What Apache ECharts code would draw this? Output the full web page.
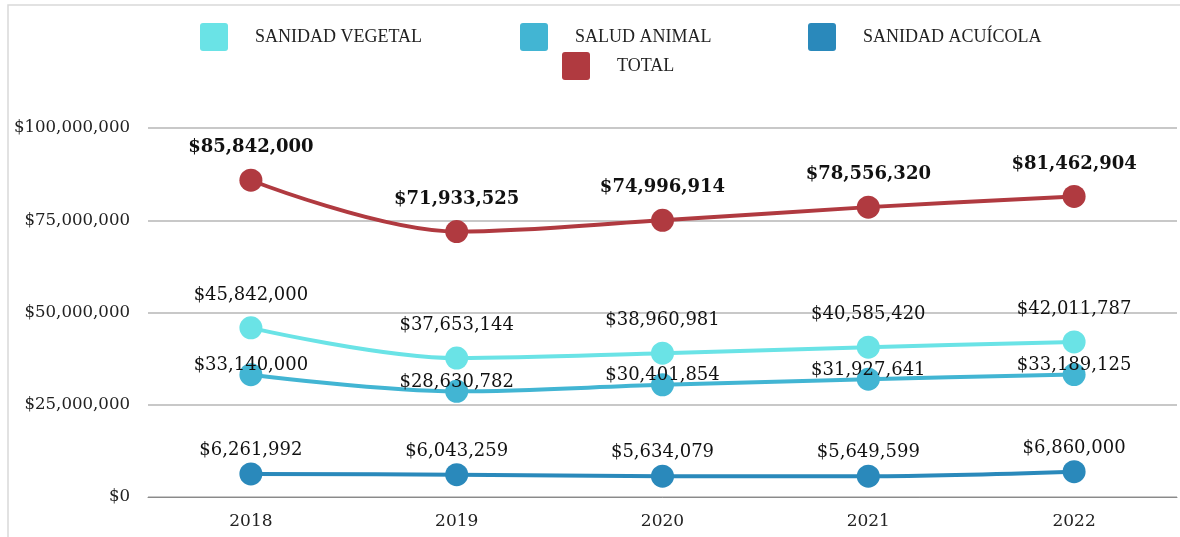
<!DOCTYPE html>
<html>
<head>
<meta charset="utf-8">
<script src="https://cdn.jsdelivr.net/npm/echarts@6/dist/echarts.min.js"></script>
<style>
  html, body { margin: 0; padding: 0; background: #fff; }
  #chart { width: 1180px; height: 537px; }
</style>
</head>
<body>
<div id="chart"></div>
<script>
// datos
const years = ["2018", "2019", "2020", "2021", "2022"];
const sanidadVegetal = [45842000, 37653144, 38960981, 40585420, 42011787];
const saludAnimal = [33140000, 28630782, 30401854, 31927641, 33189125];
const sanidadAcuicola = [6261992, 6043259, 5634079, 5649599, 6860000];
const total = [85842000, 71933525, 74996914, 78556320, 81462904];

const serif = "DejaVu Serif";
const money = (v) => "$" + Number(v).toLocaleString("en-US");
// cuadrado con esquinas redondeadas para la leyenda
const squareIcon = "path://M3,0H25Q28,0,28,3V25Q28,28,25,28H3Q0,28,0,25V3Q0,0,3,0Z";

const chart = echarts.init(document.getElementById("chart"));

// una leyenda por serie para fijar su posición
function legendItem(name, left, top) {
  return {
    data: [name],
    left: left,
    top: top,
    itemWidth: 28,
    itemHeight: 28,
    icon: squareIcon,
    selectedMode: false,
    textStyle: {
      fontFamily: "Liberation Serif",
      fontSize: 18,
      color: "#222",
      padding: [0, 0, 4, 22],
    },
  };
}

function lineSeries(name, data, color, label) {
  return {
    name: name,
    type: "line",
    data: data,
    smooth: 0.35,
    symbol: "circle",
    symbolSize: 23,
    itemStyle: { color: color },
    lineStyle: { color: color, width: 4 },
    label: Object.assign(
      {
        show: true,
        formatter: (p) => money(p.value),
        fontFamily: serif,
        fontSize: 18,
        color: "#111",
      },
      label
    ),
    z: 3,
  };
}

const option = {
  backgroundColor: "#fff",
  animation: false,
  graphic: [
    {
      type: "rect",
      shape: { x: 8, y: 5, width: 1300, height: 700 },
      style: { fill: "none", stroke: "#d9d9d9", lineWidth: 1.5 },
      silent: true,
    },
  ],
  legend: [
    legendItem("SANIDAD VEGETAL", 195, 18),
    legendItem("SALUD ANIMAL", 515, 18),
    legendItem("SANIDAD ACUÍCOLA", 803, 18),
    legendItem("TOTAL", 557, 47),
  ],
  grid: { left: 148, right: 3, top: 128, bottom: 40 },
  xAxis: {
    type: "category",
    data: years,
    boundaryGap: true,
    axisLine: { lineStyle: { color: "#8a8a8a", width: 1 } },
    axisTick: { show: false },
    axisLabel: {
      fontFamily: serif,
      fontSize: 17,
      color: "#222",
      margin: 16,
    },
  },
  yAxis: {
    type: "value",
    min: 0,
    max: 100000000,
    interval: 25000000,
    axisLine: { show: false },
    axisTick: { show: false },
    splitLine: { lineStyle: { color: "#c8c8c8", width: 2 } },
    axisLabel: {
      fontFamily: serif,
      fontSize: 16.6,
      color: "#222",
      margin: 18,
      formatter: money,
    },
  },
  series: [
    lineSeries("SANIDAD VEGETAL", sanidadVegetal, "#6ae3e6", {
      position: "top",
      distance: 12,
    }),
    lineSeries("SALUD ANIMAL", saludAnimal, "#42b5d3", {
      position: "inside",
      offset: [0, -9],
    }),
    lineSeries("SANIDAD ACUÍCOLA", sanidadAcuicola, "#2a89bb", {
      position: "top",
      distance: 3,
    }),
    lineSeries("TOTAL", total, "#b03a40", {
      position: "top",
      distance: 12,
      fontWeight: "bold",
    }),
  ],
};

chart.setOption(option);
window.addEventListener("resize", function () {
  chart.resize();
});
</script>
</body>
</html>
